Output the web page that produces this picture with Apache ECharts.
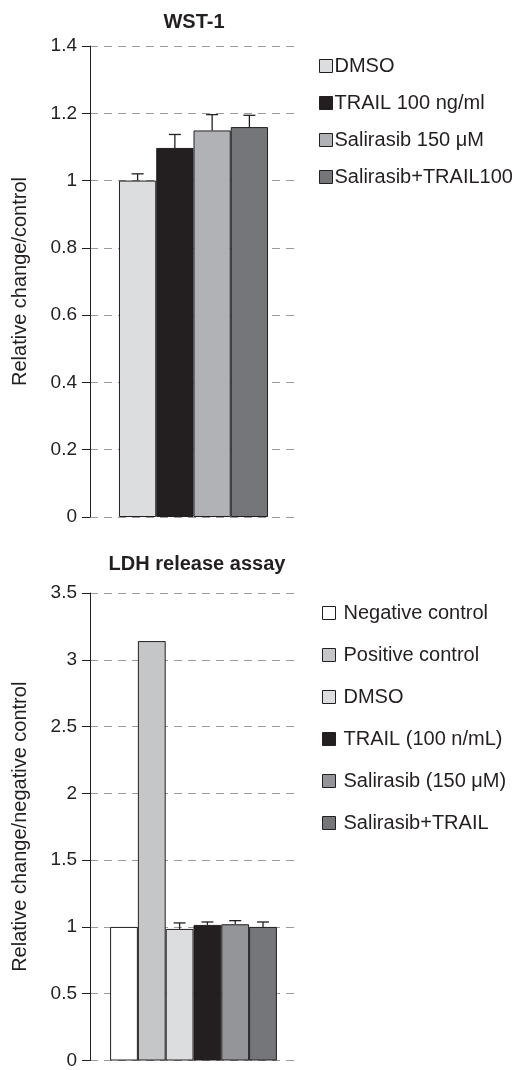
<!DOCTYPE html>
<html>
<head>
<meta charset="utf-8">
<script src="https://cdn.jsdelivr.net/npm/echarts@6/dist/echarts.min.js"></script>
<style>html,body{margin:0;padding:0;background:#fff}#c{width:528px;height:1070px}</style>
</head>
<body>
<div id="c"></div>
<script>
// ---- data ----
const wstTitle = 'WST-1';
const wstAxisName = 'Relative change/control';
const wstNames = ['DMSO', 'TRAIL 100 ng/ml', 'Salirasib 150 μM', 'Salirasib+TRAIL100'];
const wstValues = [1.0, 1.097, 1.149, 1.159];
const wstErrors = [0.02, 0.04, 0.047, 0.035];
const wstColors = ['#dcdddf', '#231f20', '#b1b2b5', '#757679'];

const ldhTitle = 'LDH release assay';
const ldhAxisName = 'Relative change/negative control';
const ldhNames = ['Negative control', 'Positive control', 'DMSO', 'TRAIL (100 n/mL)', 'Salirasib (150 μM)', 'Salirasib+TRAIL'];
const ldhValues = [1.0, 3.14, 0.985, 1.015, 1.02, 1.0];
const ldhErrors = [null, null, 0.045, 0.022, 0.027, 0.037];
const ldhColors = ['#ffffff', '#c5c6c8', '#dcdddf', '#231f20', '#939598', '#757679'];

// ---- chart ----
const FONT = 'Liberation Sans, Arial, sans-serif';
const INK = '#231f20';
const chart = echarts.init(document.getElementById('c'), null, {renderer: 'canvas'});

function yAxisDef(gridIndex, max, interval, name) {
  return {
    type: 'value', gridIndex, min: 0, max, interval,
    name, nameLocation: 'middle', nameGap: 60,
    nameTextStyle: {fontFamily: FONT, fontSize: 20, color: INK},
    axisLine: {show: true, lineStyle: {color: INK, width: 1}},
    axisTick: {show: true, length: 8, lineStyle: {color: INK}},
    axisLabel: {fontFamily: FONT, fontSize: 19, color: INK, margin: 13},
    splitLine: {show: true, lineStyle: {color: '#9a9a9a', width: 1, type: [8, 6]}}
  };
}
function xAxisDef(gridIndex) {
  return {
    type: 'category', gridIndex, data: ['g'],
    axisLine: {show: false}, axisTick: {show: false}, axisLabel: {show: false},
    splitLine: {show: false}
  };
}
function barSeries(names, values, colors, axisIndex, gap) {
  return names.map((n, i) => ({
    type: 'bar', name: n, xAxisIndex: axisIndex, yAxisIndex: axisIndex,
    data: [values[i]], barGap: '0%', barCategoryGap: gap,
    itemStyle: {color: colors[i], borderColor: INK, borderWidth: 1},
    emphasis: {disabled: true}, silent: true, z: 2
  }));
}
function errorSeries(values, errors, axisIndex, gapFrac) {
  const n = values.length;
  const data = [];
  values.forEach((v, i) => { if (errors[i] != null) data.push([0, v, errors[i], i]); });
  return {
    type: 'custom', xAxisIndex: axisIndex, yAxisIndex: axisIndex, silent: true, z: 5,
    encode: {x: 0, y: 1},
    data,
    renderItem: function (params, api) {
      const v = api.value(1), e = api.value(2), i = api.value(3);
      const base = api.coord([0, v]);
      const top = api.coord([0, v + e]);
      const band = api.size([1, 0])[0];
      const bw = band * (1 - gapFrac) / n;
      const x = base[0] + (i - (n - 1) / 2) * bw;
      const style = {stroke: INK, lineWidth: 1.3};
      return {
        type: 'group',
        children: [
          {type: 'line', shape: {x1: x, y1: base[1], x2: x, y2: top[1]}, style},
          {type: 'line', shape: {x1: x - 6, y1: top[1], x2: x + 6, y2: top[1]}, style}
        ]
      };
    }
  };
}
function legendDef(names, left, top, gap, padLeft) {
  return {
    data: names, orient: 'vertical', left, top, itemGap: gap,
    itemWidth: 13, itemHeight: 13, icon: 'rect',
    itemStyle: {borderColor: INK, borderWidth: 1},
    textStyle: {fontFamily: FONT, fontSize: 20, color: INK, padding: [0, 0, 0, padLeft], lineHeight: 20},
    selectedMode: false, padding: 0
  };
}

const option = {
  animation: false,
  backgroundColor: '#fff',
  title: [
    {text: wstTitle, left: 194, top: 12, textAlign: 'center', padding: 0,
     textStyle: {fontFamily: FONT, fontSize: 20, fontWeight: 'bold', color: INK}},
    {text: ldhTitle, left: 197, top: 554, textAlign: 'center', padding: 0,
     textStyle: {fontFamily: FONT, fontSize: 20, fontWeight: 'bold', color: INK}}
  ],
  grid: [
    {left: 90, right: 231, top: 46, bottom: 553},
    {left: 90, right: 231, top: 593, bottom: 5}
  ],
  xAxis: [xAxisDef(0), xAxisDef(1)],
  yAxis: [yAxisDef(0, 1.4, 0.2, wstAxisName), yAxisDef(1, 3.5, 0.5, ldhAxisName)],
  legend: [
    legendDef(wstNames, 319, 56, 17, -3),
    legendDef(ldhNames, 322, 603, 22, 3)
  ],
  series: [
    ...barSeries(wstNames, wstValues, wstColors, 0, '28%'),
    errorSeries(wstValues, wstErrors, 0, 0.28),
    ...barSeries(ldhNames, ldhValues, ldhColors, 1, '19.4%'),
    errorSeries(ldhValues, ldhErrors, 1, 0.194)
  ]
};
chart.setOption(option);
</script>
</body>
</html>
